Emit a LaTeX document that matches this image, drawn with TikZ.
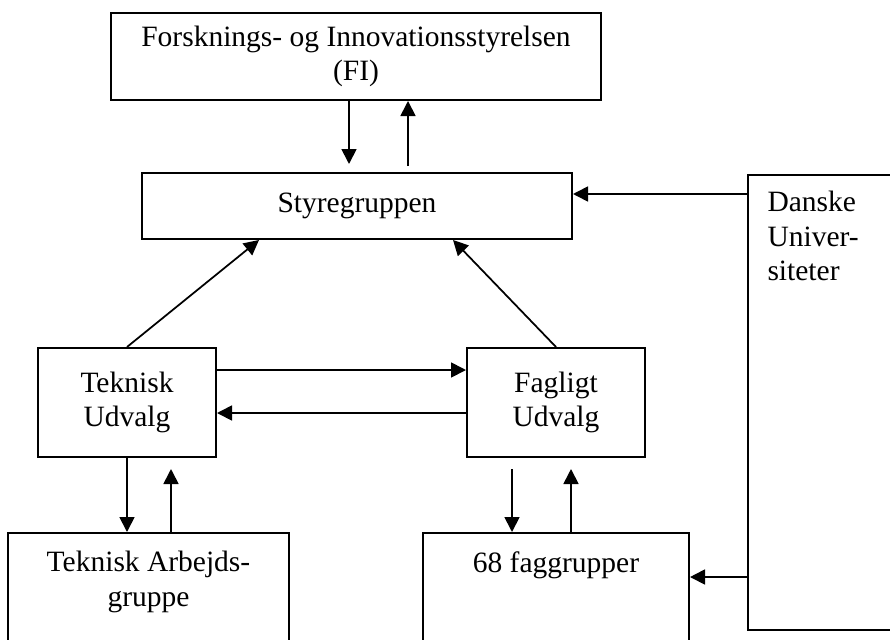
\documentclass[tikz,border=0pt]{standalone}
\usepackage{fontspec}
\setmainfont{Liberation Serif}
\usetikzlibrary{arrows.meta}

\begin{document}
\begin{tikzpicture}[x=0.4pt, y=-0.4pt,
    box/.style={draw, rectangle, line width=0.8pt, inner sep=0pt, align=center},
    arr/.style={line width=0.7pt, -{Triangle[length=6pt, width=6pt]}},
    toptext/.style={anchor=north, inner sep=0pt, align=center, yshift=-7.6pt},
    font=\fontsize{11.8}{13.8}\selectfont]
    \useasboundingbox (0,0) rectangle (890,639);
    \clip (0,0) rectangle (890,639);
    \node[box, minimum width=196pt, minimum height=34.8pt] (fi) at (356,56.5) {Forsknings- og Innovationsstyrelsen\\(FI)};
    \node[box, minimum width=172pt, minimum height=26.4pt] (styre) at (357,206) {Styregruppen};
    \node[box, minimum width=71.2pt, minimum height=43.6pt] (tu) at (127,402.5) {Teknisk\\Udvalg};
    \node[box, minimum width=71.2pt, minimum height=43.6pt] (fu) at (556,402.5) {Fagligt\\Udvalg};
    \node[box, minimum width=112.4pt, minimum height=66.8pt,
        label={[toptext]north:Teknisk Arbejds-\\gruppe}] (ta) at (148.5,616.5) {};
    \node[box, minimum width=106.4pt, minimum height=66.8pt,
        label={[toptext]north:68 faggrupper}] (fag) at (556,616.5) {};
    \node[box, minimum width=84.8pt, minimum height=182pt,
        label={[anchor=north west, inner sep=0pt, align=left, xshift=8pt, yshift=-6.8pt]north west:Danske\\Univer-\\siteter}] (du) at (854,402.5) {};
    \draw[arr, shorten >=3.2pt] ([xshift=-2.8pt]fi.south) -- ([xshift=-2.8pt]fi.south |- styre.north);
    \draw[arr, shorten <=2.4pt] ([xshift=20.8pt]fi.south |- styre.north) -- ([xshift=20.8pt]fi.south);
    \draw[arr] ([yshift=-8pt]du.north west) -- ([yshift=-8pt]du.north west -| styre.east);
    \draw[arr] (tu.north) -- ([xshift=-39.2pt]styre.south);
    \draw[arr] (fu.north) -- ([xshift=38.4pt]styre.south);
    \draw[arr] ([yshift=13pt]tu.east) -- ([yshift=13pt]tu.east -| fu.west);
    \draw[arr] ([yshift=-4.2pt]fu.west) -- ([yshift=-4.2pt]fu.west -| tu.east);
    \draw[arr] (tu.south) -- (tu.south |- ta.north);
    \draw[arr, shorten >=4.4pt] ([xshift=17.6pt]tu.south |- ta.north) -- ([xshift=17.6pt]tu.south);
    \draw[arr, shorten <=4.4pt] ([xshift=-17.6pt]fu.south) -- ([xshift=-17.6pt]fu.south |- fag.north);
    \draw[arr, shorten >=4.4pt] ([xshift=6pt]fu.south |- fag.north) -- ([xshift=6pt]fu.south);
    \draw[arr] ([yshift=-69.8pt]du.west) -- ([yshift=-69.8pt]du.west -| fag.east);
\end{tikzpicture}
\end{document}
